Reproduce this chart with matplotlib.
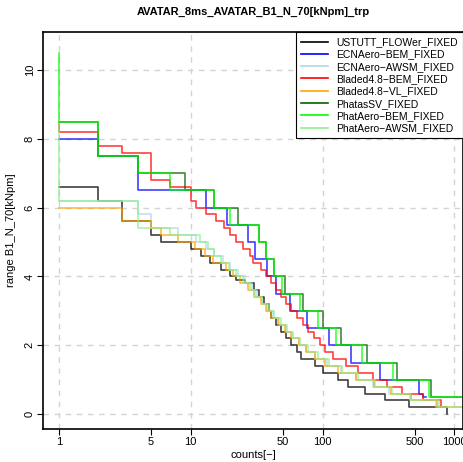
import matplotlib
matplotlib.use("Agg")
import matplotlib.pyplot as plt

plt.rcParams['font.family'] = ['Liberation Sans', 'DejaVu Sans']

title = "AVATAR_8ms_AVATAR_B1_N_70[kNpm]_trp"
xlabel = "counts[\u2212]"
ylabel = "range B1_N_70[kNpm]"

labels = ["USTUTT_FLOWer_FIXED", "ECNAero\u2212BEM_FIXED", "ECNAero\u2212AWSM_FIXED",
          "Bladed4.8\u2212BEM_FIXED", "Bladed4.8\u2212VL_FIXED", "PhatasSV_FIXED",
          "PhatAero\u2212BEM_FIXED", "PhatAero\u2212AWSM_FIXED"]
colors = ["black", "blue", "lightblue", "red", "orange", "darkgreen", "#00FF00", "lightgreen"]

# cumulative counts (x) and range levels (y)
ustutt_x = [1, 2, 3, 5, 6, 10, 12, 14, 17, 20, 22, 26, 30, 33, 36, 39, 41, 44, 48, 53, 58, 64, 69, 88, 101, 131, 156, 210, 296, 452, 870]
ustutt_y = [6.6, 6.2, 5.6, 5.2, 5.0, 4.8, 4.6, 4.4, 4.2, 4.0, 3.9, 3.8, 3.6, 3.4, 3.2, 3.0, 2.8, 2.6, 2.4, 2.2, 2.0, 1.8, 1.6, 1.4, 1.2, 1.0, 0.8, 0.6, 0.4, 0.2, 0.0]

ecnbem_x = [1, 2, 4, 13, 19, 27.3, 31, 38, 44.7, 57, 76, 112, 164, 272, 540, 578, 610]
ecnbem_y = [8.0, 7.5, 6.5, 6.0, 5.5, 5.0, 4.5, 4.0, 3.5, 3.0, 2.5, 2.0, 1.5, 1.0, 0.6, 0.5, 0.5]

ecnawsm_x = [1, 4, 5, 8, 11, 13, 15, 17.5, 20, 23, 26, 29, 32, 35, 38, 42, 47, 53, 59, 66, 75, 88, 108, 138, 178, 240, 320, 470, 720, 760]
ecnawsm_y = [6.2, 5.8, 5.4, 5.2, 5.0, 4.8, 4.6, 4.4, 4.2, 4.0, 3.8, 3.6, 3.4, 3.2, 3.0, 2.8, 2.6, 2.4, 2.2, 2.0, 1.8, 1.6, 1.4, 1.2, 1.0, 0.8, 0.6, 0.4, 0.2, 0.2]

bladedbem_x = [1, 1, 2, 3, 5, 7, 10, 11, 13, 15.7, 18, 20, 22, 24.8, 28, 29.6, 34, 37, 41, 44, 48, 53, 58, 64, 71, 78, 86, 95, 104, 120, 150, 186, 242, 309, 400, 578, 787]
bladedbem_y = [8.45, 8.2, 7.8, 7.6, 6.8, 6.6, 6.2, 6.0, 5.8, 5.6, 5.4, 5.2, 5.0, 4.8, 4.6, 4.4, 4.2, 4.0, 3.8, 3.6, 3.4, 3.2, 3.0, 2.8, 2.6, 2.4, 2.2, 2.0, 1.8, 1.6, 1.4, 1.2, 1.0, 0.8, 0.6, 0.4, 0.2]

bladedvl_x = [1, 3, 5, 6, 8, 10.8, 12.8, 14.8, 18.5, 21, 23.5, 27, 30, 34, 37, 41, 46, 52, 58, 66, 75, 88, 105, 130, 180, 245, 330, 470, 740, 1500]
bladedvl_y = [6.0, 5.6, 5.4, 5.2, 5.0, 4.8, 4.6, 4.4, 4.2, 4.0, 3.8, 3.6, 3.4, 3.2, 3.0, 2.8, 2.6, 2.4, 2.2, 2.0, 1.8, 1.6, 1.4, 1.2, 1.0, 0.8, 0.6, 0.4, 0.2, 0.2]

phatas_x = [1, 2, 4, 9, 15, 23, 33, 37, 42.5, 52, 71, 100, 138, 219, 364, 660, 1500]
phatas_y = [8.5, 7.5, 7.0, 6.5, 6.0, 5.5, 5.0, 4.5, 4.0, 3.5, 3.0, 2.5, 2.0, 1.5, 1.0, 0.5, 0.5]

phatbem_x = [1, 1, 2, 4, 7, 15, 20, 33, 37, 42.5, 49, 68, 92.6, 127, 200, 343, 640, 1500]
phatbem_y = [10.5, 8.5, 7.5, 7.0, 6.5, 6.0, 5.5, 5.0, 4.5, 4.0, 3.5, 3.0, 2.5, 2.0, 1.5, 1.0, 0.5, 0.5]

phatawsm_x = [1, 1, 4, 7, 11.7, 13.5, 15, 17, 19.5, 22, 25, 28, 31, 35, 39, 43, 48, 54, 60, 68, 77, 92, 112, 140, 185, 250, 335, 460, 760, 1500]
phatawsm_y = [8.45, 6.2, 5.4, 5.2, 5.0, 4.8, 4.6, 4.4, 4.2, 4.0, 3.8, 3.6, 3.4, 3.2, 3.0, 2.8, 2.6, 2.4, 2.2, 2.0, 1.8, 1.6, 1.4, 1.2, 1.0, 0.8, 0.6, 0.4, 0.2, 0.2]

series = [(ustutt_x, ustutt_y), (ecnbem_x, ecnbem_y), (ecnawsm_x, ecnawsm_y),
          (bladedbem_x, bladedbem_y), (bladedvl_x, bladedvl_y), (phatas_x, phatas_y),
          (phatbem_x, phatbem_y), (phatawsm_x, phatawsm_y)]

xticks = [1, 5, 10, 50, 100, 500, 1000]
xtick_labels = ["1", "5", "10", "50", "100", "500", "1000"]
xgrid = [1, 10, 100, 1000]
yticks = [0, 2, 4, 6, 8, 10]

fig = plt.figure(figsize=(4.64, 4.62), dpi=100)
ax = fig.add_axes([43/464, 33/462, 420/464, 397/462])

for g in yticks:
    ax.axhline(g, color='#D3D3D3', lw=1.0, ls=(0, (4, 4)), zorder=0)
for g in xgrid:
    ax.axvline(g, color='#D3D3D3', lw=1.0, ls=(0, (4, 4)), zorder=0)

for (x, y), c, lab in zip(series, colors, labels):
    ax.step(x, y, where='post', color=c, lw=1.2, alpha=0.75, label=lab)

ax.set_xscale('log')
ax.set_xlim(0.76, 1160)
ax.set_ylim(-0.43, 11.1)
ax.set_xticks(xticks)
ax.set_xticklabels(xtick_labels)
ax.minorticks_off()
ax.set_yticks(yticks)
ax.set_yticklabels([str(v) for v in yticks], rotation=90, va='center')
ax.tick_params(labelsize=8, length=4, width=0.8, direction='out', pad=2)
for s in ax.spines.values():
    s.set_linewidth(1.2)

ax.set_title(title, fontsize=8, fontweight='bold', pad=12)
ax.set_xlabel(xlabel, fontsize=8, labelpad=2)
ax.set_ylabel(ylabel, fontsize=8, labelpad=6)

leg = ax.legend(loc='upper right', fontsize=7.5, frameon=True, fancybox=False,
                edgecolor='black', framealpha=1, borderaxespad=0,
                handlelength=2.6, labelspacing=0.22, borderpad=0.5, handletextpad=0.8)
leg.get_frame().set_linewidth(0.8)
for h in leg.get_lines():
    h.set_alpha(1.0)

fig.savefig("out.png", dpi=100)
